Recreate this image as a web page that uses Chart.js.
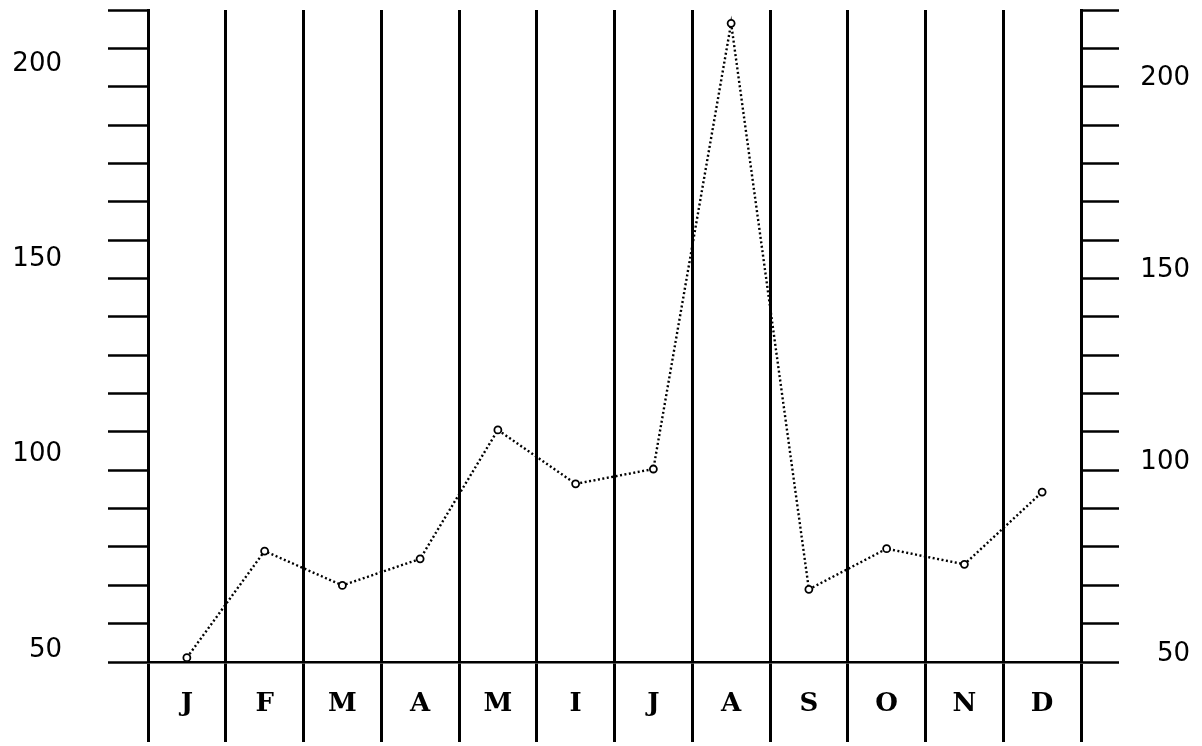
<!DOCTYPE html>
<html>
<head>
<meta charset="utf-8">
<script src="https://cdn.jsdelivr.net/npm/chart.js@4.4.0/dist/chart.umd.min.js"></script>
<style>
    html, body { margin: 0; padding: 0; background: #fff; }
    #wrap { width: 1202px; height: 746px; }
</style>
</head>
<body>
<div id="wrap"><canvas id="chart"></canvas></div>
<script>
// month initials along the bottom
const months = ['J', 'F', 'M', 'A', 'M', 'I', 'J', 'A', 'S', 'O', 'N', 'D'];
// values
const values = [48, 75.3, 66.5, 73.3, 106.3, 92.5, 96.3, 210.4, 65.5, 75.9, 71.9, 90.4];
// labelled values on both sides
const leftLabels = [50, 100, 150, 200];
const rightLabels = [50, 100, 150, 200];
// the two scales are drawn a bit differently on the original
const leftRange = [46.9, 213.8];
const rightRange = [47.9, 217.7];
// short tick marks between bottom and top
const minorCount = 17;

// minor tick marks plus the labelled values
function buildTicks(scale, range, labels) {
    let step = (range[1] - range[0]) / minorCount;
    let ticks = [];
    for (let i = 0; i <= minorCount; i++) {
        ticks.push({ value: range[0] + i * step });
    }
    labels.forEach(v => ticks.push({ value: v }));
    ticks.sort((a, b) => a.value - b.value);
    scale.ticks = ticks;
}

// keep the axis boxes at fixed sizes (tick padding would otherwise push the plot)
function fixBox(scale, size) {
    if (scale.isHorizontal()) {
        scale.height = size;
    } else {
        scale.width = size;
    }
    scale.paddingTop = 0;
    scale.paddingBottom = 0;
    scale.paddingLeft = 0;
    scale.paddingRight = 0;
}

const labelFont = { family: 'DejaVu Sans', size: 26 };

let ctx = document.getElementById('chart');
let myChart = new Chart(ctx, {
    type: 'line',
    data: {
        labels: months,
        datasets: [{
            data: values,
            yAxisID: 'y',
            borderColor: '#000',
            borderWidth: 2.4,
            borderDash: [2, 2.5],
            tension: 0,
            pointRadius: 3.5,
            pointBackgroundColor: '#fff',
            pointBorderColor: '#000',
            pointBorderWidth: 1.8,
            clip: false
        }]
    },
    options: {
        responsive: true,
        maintainAspectRatio: false,
        animation: false,
        layout: {
            padding: { left: 0, right: 12, top: 10, bottom: 0 }
        },
        plugins: {
            legend: { display: false },
            tooltip: { enabled: false }
        },
        scales: {
            x: {
                type: 'category',
                offset: true,
                afterFit: (scale) => fixBox(scale, 84),
                grid: {
                    offset: true,
                    color: '#000',
                    lineWidth: 3,
                    tickLength: 80
                },
                border: { display: true, color: '#000', width: 2.5 },
                ticks: {
                    color: '#000',
                    padding: -53,
                    maxRotation: 0,
                    autoSkip: false,
                    font: { family: 'DejaVu Serif', size: 26, weight: 'bold' }
                }
            },
            y: {
                position: 'left',
                min: leftRange[0],
                max: leftRange[1],
                afterBuildTicks: (scale) => buildTicks(scale, leftRange, leftLabels),
                afterFit: (scale) => fixBox(scale, 148),
                grid: {
                    drawOnChartArea: false,
                    tickLength: 40,
                    tickWidth: 2.5,
                    tickColor: (c) => leftLabels.includes(c.tick && c.tick.value) ? 'rgba(0,0,0,0)' : '#000'
                },
                border: { display: true, color: '#000', width: 3 },
                ticks: {
                    autoSkip: false,
                    color: '#000',
                    padding: 46,
                    font: labelFont,
                    callback: (value) => leftLabels.includes(value) ? String(value) : ''
                }
            },
            y2: {
                position: 'right',
                min: rightRange[0],
                max: rightRange[1],
                afterBuildTicks: (scale) => buildTicks(scale, rightRange, rightLabels),
                afterFit: (scale) => fixBox(scale, 109),
                grid: {
                    drawOnChartArea: false,
                    tickLength: 38,
                    tickWidth: 2.5,
                    tickColor: (c) => rightLabels.includes(c.tick && c.tick.value) ? 'rgba(0,0,0,0)' : '#000'
                },
                border: { display: true, color: '#000', width: 3 },
                ticks: {
                    autoSkip: false,
                    color: '#000',
                    padding: 24,
                    crossAlign: 'far',
                    font: labelFont,
                    callback: (value) => rightLabels.includes(value) ? String(value) : ''
                }
            }
        }
    }
});
</script>
</body>
</html>
